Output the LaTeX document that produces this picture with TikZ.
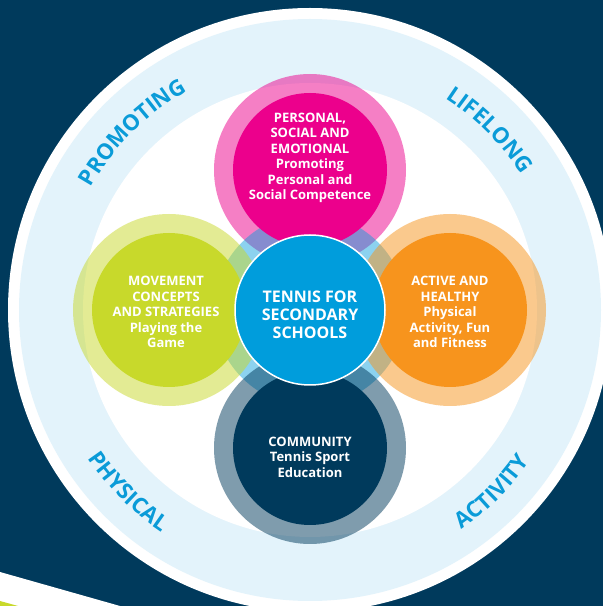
\documentclass[tikz,border=0pt]{standalone}
\usepackage{fontspec}
\setmainfont{Open Sans}
\newfontfamily\arcfont[LetterSpace=4]{Open Sans}
\usetikzlibrary{positioning,decorations.text}
\definecolor{dNavy}{RGB}{0,58,92}
\definecolor{fBand}{RGB}{227,243,251}
\definecolor{dPink}{RGB}{236,0,140}
\definecolor{dLime}{RGB}{200,217,43}
\definecolor{dOrange}{RGB}{247,148,29}
\definecolor{dBlue}{RGB}{0,157,220}
\definecolor{wBlue}{RGB}{10,155,216}

\begin{document}
\begin{tikzpicture}[x=1pt,y=1pt,
  halo/.style={circle,inner sep=0pt,minimum size=192pt,fill=#1,fill opacity=0.5},
  disc/.style={circle,inner sep=0pt,minimum size=154pt,fill=#1},
  lbl/.style={align=center,text=white,font=\bfseries\fontsize{13}{15.5}\selectfont},
  arcword/.style={decorate,decoration={text along path,text align=center,text color=wBlue,
    text={|\arcfont\bfseries\fontsize{22}{22}\selectfont|#1}}}]
\useasboundingbox (0,0) rectangle (603,606);
\fill[dNavy] (0,0) rectangle (603,606);
% stripe in the lower left corner
\fill[white] (0,34) -- (120,0) -- (0,0) -- cycle;
\fill[dLime] (0,5) -- (18,0) -- (0,0) -- cycle;

% outer band
\coordinate (c) at (310,296);
\fill[white] (c) circle[radius=302];
\fill[fBand] (c) circle[radius=291];
\fill[white] (c) circle[radius=227];

% words round the band
\path[arcword=PROMOTING] (c) ++(170:251) arc[start angle=170,end angle=100,radius=251];
\path[arcword=LIFELONG] (c) ++(80:251) arc[start angle=80,end angle=10,radius=251];
\path[arcword=PHYSICAL] (c) ++(190:267) arc[start angle=190,end angle=260,radius=267];
\path[arcword=ACTIVITY] (c) ++(280:267) arc[start angle=280,end angle=350,radius=267];

% see-through halos
\node[halo=dPink] (pinkH) at (310,436) {};
\node[halo=dBlue,fill opacity=0.45] (coreH) at (c) {};
\node[halo=dLime] (limeH) at (169,296) {};
\node[halo=dOrange] (orangeH) at (450,296) {};
\node[halo=dNavy] (navyH) at (310,158) {};

% solid discs
\node[disc=dPink] (pink) at (pinkH) {};
\node[disc=dLime] (lime) at (limeH) {};
\node[disc=dOrange] (orange) at (orangeH) {};
\node[disc=dNavy] (navy) at (navyH) {};
\node[circle,inner sep=0pt,minimum size=150pt,fill=dBlue,draw=white,line width=1.5pt] (core) at (c) {};

\node[lbl] (pinkT) at (310,448) {PERSONAL,\\SOCIAL AND\\EMOTIONAL\\Promoting\\Personal and\\Social Competence};
\node[lbl] (limeT) at (166,294) {MOVEMENT\\CONCEPTS\\AND STRATEGIES\\Playing the\\Game};
\node[lbl] (orangeT) at (450,294) {ACTIVE AND\\HEALTHY\\Physical\\Activity, Fun\\and Fitness};
\node[lbl] (navyT) at (310,149) {COMMUNITY\\Tennis Sport\\Education};
\node[lbl,font=\bfseries\fontsize{16}{18}\selectfont] (coreT) at (310,291) {TENNIS FOR\\SECONDARY\\SCHOOLS};
\end{tikzpicture}
\end{document}
